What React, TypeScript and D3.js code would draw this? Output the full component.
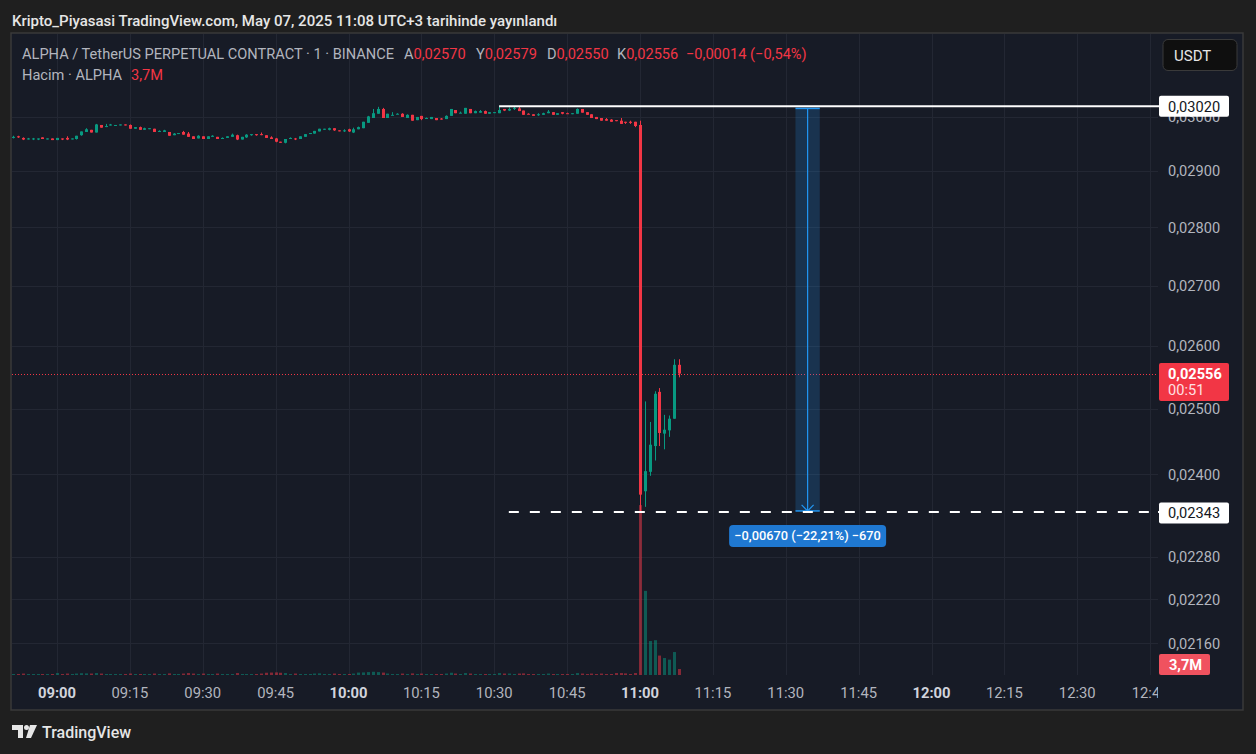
import React from "react";
import * as d3 from "d3";

// ---- data (1-minute candles, ALPHA/USDT perpetual, 07 May 2025, from 08:51) ----
const START = new Date(2025, 4, 7, 8, 51);
const opens = [
  0.02961, 0.02964, 0.02961, 0.02959, 0.02959, 0.02958, 0.02962, 0.02959, 0.0296, 0.02957,
  0.0296, 0.02961, 0.02959, 0.02959, 0.02966, 0.02972, 0.02976, 0.02971, 0.02985, 0.02982,
  0.02984, 0.02985, 0.02985, 0.02986, 0.02985, 0.02978, 0.02981, 0.02976, 0.02979, 0.02978,
  0.02972, 0.02972, 0.02972, 0.02966, 0.02969, 0.02972, 0.02969, 0.02964, 0.0296, 0.02964,
  0.02959, 0.02963, 0.02963, 0.02959, 0.02961, 0.02963, 0.02966, 0.02958, 0.02962, 0.02966,
  0.02968, 0.02968, 0.02966, 0.02962, 0.0296, 0.02954, 0.02952, 0.02959, 0.0296, 0.02959,
  0.02963, 0.02969, 0.02969, 0.02973, 0.02978, 0.02976, 0.02979, 0.02975, 0.02974, 0.02977,
  0.02971, 0.02977, 0.02979, 0.02989, 0.02998, 0.03006, 0.03015, 0.02998, 0.03004, 0.03005,
  0.03006, 0.02998, 0.03004, 0.02994, 0.03002, 0.02998, 0.02996, 0.02998, 0.02997, 0.02996,
  0.03002, 0.03013, 0.03007, 0.03006, 0.03015, 0.03007, 0.03008, 0.03011, 0.03006, 0.03009,
  0.03007, 0.03015, 0.03012, 0.03016, 0.03016, 0.03012, 0.03006, 0.03005, 0.03004, 0.03004,
  0.03007, 0.03009, 0.03004, 0.03009, 0.03007, 0.03007, 0.03006, 0.03015, 0.03009, 0.03005,
  0.03, 0.02998, 0.02996, 0.02995, 0.02994, 0.02993, 0.02991, 0.02991, 0.02991, 0.02985,
  0.02375, 0.02404, 0.02443, 0.02527, 0.02462, 0.02467, 0.02485, 0.0257,
];
const highs = [
  0.02965, 0.02965, 0.02962, 0.02961, 0.02961, 0.0296, 0.02962, 0.0296, 0.0296, 0.02961,
  0.0296, 0.02964, 0.0296, 0.02965, 0.02973, 0.02979, 0.02976, 0.02987, 0.02985, 0.02987,
  0.02987, 0.02985, 0.02986, 0.02986, 0.02986, 0.02981, 0.02982, 0.0298, 0.02979, 0.02978,
  0.02975, 0.02976, 0.02972, 0.0297, 0.0297, 0.02974, 0.02972, 0.02964, 0.02966, 0.02964,
  0.02964, 0.02966, 0.02963, 0.02962, 0.02964, 0.02969, 0.02967, 0.02963, 0.02968, 0.02968,
  0.02968, 0.02971, 0.02966, 0.02964, 0.02961, 0.02954, 0.02959, 0.02962, 0.02961, 0.02964,
  0.02968, 0.0297, 0.02974, 0.02978, 0.02978, 0.0298, 0.02979, 0.02975, 0.02977, 0.02978,
  0.0298, 0.02982, 0.02991, 0.03002, 0.03015, 0.03019, 0.03017, 0.03006, 0.03009, 0.03007,
  0.03007, 0.03005, 0.03004, 0.03, 0.03002, 0.02999, 0.03, 0.02998, 0.02998, 0.03003,
  0.03015, 0.03013, 0.0301, 0.03017, 0.03015, 0.03012, 0.03013, 0.03012, 0.03009, 0.03009,
  0.0302, 0.03015, 0.03018, 0.03019, 0.03019, 0.03012, 0.03007, 0.03005, 0.03007, 0.03008,
  0.03013, 0.03009, 0.03007, 0.03009, 0.03008, 0.03007, 0.03016, 0.03015, 0.03009, 0.03005,
  0.03, 0.02998, 0.02998, 0.02996, 0.02994, 0.02998, 0.02991, 0.02993, 0.02991, 0.02993,
  0.02512, 0.0248, 0.02528, 0.02533, 0.02491, 0.0249, 0.02579, 0.02579,
];
const lows = [
  0.0296, 0.02961, 0.02957, 0.02958, 0.02957, 0.02957, 0.02959, 0.02959, 0.02957, 0.02957,
  0.02957, 0.02957, 0.02959, 0.02958, 0.02965, 0.02972, 0.02971, 0.02971, 0.0298, 0.02981,
  0.02984, 0.02985, 0.02985, 0.02985, 0.02978, 0.02978, 0.02976, 0.02976, 0.02979, 0.02972,
  0.02972, 0.02972, 0.02965, 0.02966, 0.02969, 0.02967, 0.02963, 0.02959, 0.0296, 0.02959,
  0.02959, 0.02963, 0.02959, 0.02959, 0.02961, 0.02963, 0.02957, 0.02958, 0.02961, 0.02965,
  0.02965, 0.02966, 0.02961, 0.02959, 0.02953, 0.02952, 0.02951, 0.02959, 0.02957, 0.02959,
  0.02963, 0.02969, 0.02969, 0.02973, 0.02978, 0.02975, 0.02974, 0.02974, 0.02972, 0.02972,
  0.0297, 0.02977, 0.02979, 0.02989, 0.02998, 0.03006, 0.02998, 0.02998, 0.03003, 0.03005,
  0.03, 0.02998, 0.02993, 0.02994, 0.02994, 0.02997, 0.02996, 0.02994, 0.02995, 0.02996,
  0.03002, 0.03007, 0.03007, 0.03006, 0.03007, 0.03007, 0.03008, 0.03006, 0.03006, 0.03009,
  0.03007, 0.03011, 0.03011, 0.03013, 0.03011, 0.03004, 0.03005, 0.03002, 0.03002, 0.03004,
  0.03007, 0.03004, 0.03004, 0.03005, 0.03006, 0.03007, 0.03006, 0.03008, 0.03004, 0.02998,
  0.02996, 0.02993, 0.02993, 0.02991, 0.02992, 0.02987, 0.02987, 0.02987, 0.02981, 0.02343,
  0.02352, 0.02398, 0.02421, 0.02443, 0.02438, 0.02457, 0.02485, 0.0255,
];
const closes = [
  0.02963, 0.02962, 0.02958, 0.0296, 0.0296, 0.0296, 0.02959, 0.0296, 0.02957, 0.02961,
  0.02958, 0.02958, 0.0296, 0.02965, 0.02973, 0.02977, 0.02971, 0.02986, 0.0298, 0.02983,
  0.02986, 0.02985, 0.02986, 0.02985, 0.02978, 0.02981, 0.02976, 0.02979, 0.02979, 0.02972,
  0.02974, 0.02975, 0.02965, 0.02969, 0.0297, 0.02967, 0.02963, 0.02959, 0.02965, 0.02959,
  0.02964, 0.02965, 0.02959, 0.02961, 0.02964, 0.02967, 0.02958, 0.02963, 0.02967, 0.02968,
  0.02966, 0.02967, 0.02961, 0.02959, 0.02954, 0.02952, 0.02959, 0.02961, 0.02959, 0.02964,
  0.02968, 0.0297, 0.02974, 0.02978, 0.02978, 0.02979, 0.02975, 0.02974, 0.02975, 0.02973,
  0.02977, 0.02981, 0.02991, 0.03001, 0.03007, 0.03015, 0.02998, 0.03006, 0.03004, 0.03006,
  0.03, 0.03004, 0.02993, 0.03, 0.02996, 0.02998, 0.03, 0.02994, 0.02996, 0.03002,
  0.03015, 0.03007, 0.03008, 0.03017, 0.03007, 0.03011, 0.03011, 0.03006, 0.03009, 0.03009,
  0.03013, 0.03012, 0.03015, 0.03017, 0.03011, 0.03004, 0.03005, 0.03002, 0.03005, 0.03007,
  0.0301, 0.03004, 0.03007, 0.03006, 0.03006, 0.03007, 0.03015, 0.03008, 0.03004, 0.02998,
  0.02996, 0.02993, 0.02993, 0.02991, 0.02993, 0.02987, 0.02989, 0.02989, 0.02983, 0.0237,
  0.02405, 0.02445, 0.02524, 0.02463, 0.02468, 0.02485, 0.0257, 0.02556,
];
// volume in millions
const volumes = [
  0.6, 0.6, 0.9, 0.6, 0.6, 0.6, 0.6, 0.6, 0.6, 1.2,
  0.6, 0.9, 0.6, 0.9, 1.1, 1.0, 0.9, 1.2, 0.9, 0.6, 0.6,
  0.6, 0.6, 0.6, 0.9, 0.6, 0.6, 0.6, 0.6, 0.9, 0.6, 0.6, 1.0, 0.6, 0.6, 0.9,
  1.2, 0.9, 0.6, 0.9, 0.6, 0.6, 0.9, 0.6, 0.6, 0.6, 1.2, 0.6, 0.6, 0.6, 0.6, 0.9,
  1.4, 1.5, 1.6, 1.4,
  1.2, 0.6, 0.9, 0.6, 0.6, 0.6, 0.9, 1.0, 0.6, 0.6, 0.9, 0.6, 0.6, 0.6, 0.9,
  1.5, 1.6, 1.8, 2.0, 1.8, 1.5,
  0.9, 0.6, 0.6, 0.9, 0.6, 1.0, 0.6, 0.9, 0.6, 0.6,
  0.6, 0.6, 0.9, 1.4, 0.9, 0.6, 1.2, 0.9, 0.6, 0.6,
  0.6, 0.6, 0.6, 1.2, 0.9, 0.9, 0.6, 0.9, 1.0, 0.6,
  0.6, 0.6, 0.6, 0.9, 0.6, 0.6, 0.6, 0.6, 0.6, 1.2,
  0.9, 0.6, 0.9, 0.6, 0.9, 0.6, 0.6, 1.2, 1.2, 1.0, 0.6, 1.2,
  105, 52, 21, 21.5, 12, 10.5, 9.5, 14.2, 3.7,
];

const priceTicks = [0.03, 0.029, 0.028, 0.027, 0.026, 0.025, 0.024, 0.0228, 0.0222, 0.0216];
const timeTickStart = new Date(2025, 4, 7, 9, 0);
const timeTickEnd = new Date(2025, 4, 7, 12, 45);

// drawings
const rayHigh = { price: 0.0302, from: new Date(2025, 4, 7, 10, 31) };
const rayLow = { price: 0.02343, from: new Date(2025, 4, 7, 10, 33) };
const measure = {
  from: new Date(2025, 4, 7, 11, 32),
  to: new Date(2025, 4, 7, 11, 37),
  startPrice: 0.03016,
  endPrice: 0.02346,
  tick: 0.00001,
};
const lastPrice = 0.02556;
const countdown = "00:51";
const legendTitle = "ALPHA / TetherUS PERPETUAL CONTRACT · 1 · BINANCE";
const ohlcLegend = [
  { k: "A", v: "0,02570" },
  { k: "Y", v: "0,02579" },
  { k: "D", v: "0,02550" },
  { k: "K", v: "0,02556" },
];
const ohlcX = [404, 476, 547, 617];
const changeText = "\u22120,00014 (\u22120,54%)";
const volumeLabel = "3,7M";
const headerText = "Kripto_Piyasasi TradingView.com, May 07, 2025 11:08 UTC+3 tarihinde yayınlandı";

const loc = d3.formatLocale({ decimal: ",", thousands: ".", grouping: [3], currency: ["", ""], minus: "\u2212" });
const f5 = loc.format(".5f");
const f2 = loc.format(".2f");
const fInt = loc.format("d");

const UP = "#089981";
const DOWN = "#f23645";
const FONT = "Roboto, 'Noto Sans', sans-serif";
const FS = 14.6;

export default function App() {
  const plot = { left: 12, right: 1158, top: 34, bottom: 676 };
  const x = d3.scaleTime()
    .domain([new Date(2025, 4, 7, 9, 0), new Date(2025, 4, 7, 11, 0)])
    .range([57, 640]);
  const y = d3.scaleLog().domain([0.0216, 0.0302]).range([643.3, 106.3]);
  const v = d3.scaleLinear().domain([0, 110]).range([675, 497]);

  const candles = opens.map((o, i) => ({
    t: d3.timeMinute.offset(START, i),
    o,
    h: highs[i],
    l: lows[i],
    c: closes[i],
    vol: volumes[i],
  }));
  const timeTicks = d3.timeMinute.every(15)!.range(timeTickStart, d3.timeMinute.offset(timeTickEnd, 1));
  const gridColor = "#232733";

  const mx0 = x(measure.from);
  const mx1 = x(measure.to);
  const mcx = (mx0 + mx1) / 2;
  const my0 = y(measure.startPrice);
  const my1 = y(measure.endPrice);
  const diff = measure.endPrice - measure.startPrice;
  const measureText = `${f5(diff)} (${f2((diff / measure.startPrice) * 100)}%) ${fInt(Math.round(diff / measure.tick))}`;

  const axisBox = (price: number, label: string, fill: string, color: string) => {
    const cy = y(price);
    return (
      <g>
        <rect x={1159} y={cy - 10.5} width={70} height={21} rx={2} fill={fill} />
        <text x={1168} y={cy + 5.2} fontSize={FS} fill={color} fontFamily={FONT}>{label}</text>
      </g>
    );
  };

  return (
    <div style={{ position: "fixed", left: 0, top: 0 }}>
      <svg width={1256} height={754} style={{ display: "block" }}>
        <defs>
          <clipPath id="plotClip">
            <rect x={plot.left} y={plot.top} width={plot.right - plot.left} height={plot.bottom - plot.top} />
          </clipPath>
          <clipPath id="timeClip">
            <rect x={plot.left} y={676} width={plot.right - plot.left} height={33} />
          </clipPath>
        </defs>
        <rect x={0} y={0} width={1256} height={754} fill="#1f1f1f" />
        <text x={12} y={25.5} fontSize={15} fontWeight={500} fill="#e6e6e6" fontFamily={FONT}>{headerText}</text>

        <rect x={11} y={33} width={1232} height={677} fill="#171b26" stroke="#3a3a3a" strokeWidth={1.5} />

        {/* grid */}
        <g clipPath="url(#plotClip)">
          {priceTicks.map((p) => (
            <line key={p} x1={plot.left} x2={plot.right} y1={Math.round(y(p)) + 0.5} y2={Math.round(y(p)) + 0.5} stroke={gridColor} />
          ))}
          {timeTicks.map((t) => (
            <line key={+t} x1={Math.round(x(t)) + 0.5} x2={Math.round(x(t)) + 0.5} y1={plot.top} y2={675} stroke={gridColor} />
          ))}
        </g>

        {/* volume */}
        <g clipPath="url(#plotClip)">
          {candles.map((d) => {
            const cx = Math.round(x(d.t));
            const top = Math.min(v(d.vol), 674);
            return (
              <rect key={+d.t} x={cx - 1} y={top} width={3} height={675 - top}
                fill={d.c >= d.o ? "rgba(8,153,129,0.5)" : "rgba(242,54,69,0.5)"} />
            );
          })}
        </g>

        {/* candles */}
        <g clipPath="url(#plotClip)">
          {candles.map((d) => {
            const cx = Math.round(x(d.t));
            const col = d.c >= d.o ? UP : DOWN;
            const yTop = y(Math.max(d.o, d.c));
            const yBot = y(Math.min(d.o, d.c));
            return (
              <g key={+d.t}>
                <rect x={cx} y={y(d.h)} width={1} height={Math.max(1, y(d.l) - y(d.h))} fill={col} />
                <rect x={cx - 1} y={yTop} width={3} height={Math.max(1, yBot - yTop)} fill={col} />
              </g>
            );
          })}
        </g>

        {/* last price dotted line */}
        <line x1={plot.left} x2={plot.right} y1={Math.round(y(lastPrice)) + 0.5} y2={Math.round(y(lastPrice)) + 0.5}
          stroke={DOWN} strokeDasharray="1 2" />

        {/* measure tool */}
        <g>
          <rect x={mx0} y={my0} width={mx1 - mx0} height={my1 - my0} fill="rgba(33,150,243,0.2)" />
          <line x1={mx0} x2={mx1} y1={my0} y2={my0} stroke="#2196f3" strokeWidth={1.5} />
          <line x1={mx0} x2={mx1} y1={my1} y2={my1} stroke="#2196f3" strokeWidth={1.5} />
          <line x1={mcx} x2={mcx} y1={my0} y2={my1} stroke="#2196f3" strokeWidth={1.2} />
          <polyline points={`${mcx - 6},${my1 - 6} ${mcx},${my1} ${mcx + 6},${my1 - 6}`} fill="none" stroke="#2196f3" strokeWidth={1.2} />
        </g>

        {/* horizontal rays */}
        <line x1={x(rayHigh.from)} x2={1160} y1={y(rayHigh.price)} y2={y(rayHigh.price)} stroke="#ffffff" strokeWidth={2} />
        <line x1={x(rayLow.from)} x2={plot.right} y1={y(rayLow.price) - 1} y2={y(rayLow.price) - 1} stroke="#ffffff" strokeWidth={2} strokeDasharray="10 11" />
        <line x1={plot.right} x2={1160} y1={y(rayLow.price) - 1} y2={y(rayLow.price) - 1} stroke="#ffffff" strokeWidth={2} />

        {/* measure label */}
        <g>
          <rect x={mcx - 78.5} y={my1 + 14} width={157} height={22} rx={4} fill="#1f78d1" />
          <text x={mcx} y={my1 + 29.5} textAnchor="middle" fontSize={12.8} fontWeight={500} fill="#ffffff" fontFamily={FONT}>{measureText}</text>
        </g>

        {/* legend */}
        <text x={22} y={58.5} fontSize={FS} fill="#b2b5be" fontFamily={FONT}>{legendTitle}</text>
        {ohlcLegend.map((d, i) => (
          <text key={d.k} x={ohlcX[i]} y={58.5} fontSize={FS} fontFamily={FONT}>
            <tspan fill="#b2b5be">{d.k}</tspan>
            <tspan fill={DOWN}>{d.v}</tspan>
          </text>
        ))}
        <text x={686} y={58.5} fontSize={FS} fill={DOWN} fontFamily={FONT}>{changeText}</text>
        <text x={22} y={79.5} fontSize={FS} fill="#b2b5be" fontFamily={FONT}>Hacim · ALPHA</text>
        <text x={131} y={79.5} fontSize={FS} fill={DOWN} fontFamily={FONT}>{volumeLabel}</text>

        {/* USDT button */}
        <rect x={1163} y={39.5} width={74} height={31} rx={5} fill="#0f0f0f" stroke="#3a3a3a" />
        <text x={1174} y={60.5} fontSize={15} fill="#e6e6e6" fontFamily={FONT}>USDT</text>

        {/* price axis */}
        {priceTicks.map((p) => (
          <text key={p} x={1168} y={y(p) + 5.2} fontSize={FS} fill="#b2b5be" fontFamily={FONT}>{f5(p)}</text>
        ))}
        {axisBox(rayHigh.price, f5(rayHigh.price), "#ffffff", "#131722")}
        {axisBox(rayLow.price, f5(rayLow.price), "#ffffff", "#131722")}
        <g>
          <rect x={1159} y={y(lastPrice) - 10.5} width={70} height={38} rx={2} fill={DOWN} />
          <text x={1168} y={y(lastPrice) + 5.2} fontSize={FS} fontWeight={700} fill="#ffffff" fontFamily={FONT}>{f5(lastPrice)}</text>
          <text x={1168} y={y(lastPrice) + 21} fontSize={FS} fill="#ffe0e3" fontFamily={FONT}>{countdown}</text>
        </g>
        <g>
          <rect x={1159} y={654} width={51} height={21} rx={2} fill="#f0525f" />
          <text x={1169} y={670} fontSize={FS} fontWeight={700} fill="#ffffff" fontFamily={FONT}>{volumeLabel}</text>
        </g>

        {/* time axis */}
        <g clipPath="url(#timeClip)">
          {timeTicks.map((t) => (
            <text key={+t} x={x(t)} y={698} textAnchor="middle" fontSize={14.8}
              fontWeight={t.getMinutes() === 0 ? 700 : 400}
              fill={t.getMinutes() === 0 ? "#d1d4dc" : "#b2b5be"} fontFamily={FONT}>
              {d3.timeFormat("%H:%M")(t)}
            </text>
          ))}
        </g>

        {/* footer logo */}
        <g fill="#e6e6e6">
          <path d="M12 725 h11 v13 h-5 v-8 h-6 z" />
          <circle cx={26.5} cy={727.5} r={2.5} />
          <path d="M30 725 h7 l-6 13 h-5 z" />
        </g>
        <text x={42} y={738} fontSize={16} fontWeight={500} fill="#e6e6e6" fontFamily={FONT}>TradingView</text>
      </svg>
    </div>
  );
}
